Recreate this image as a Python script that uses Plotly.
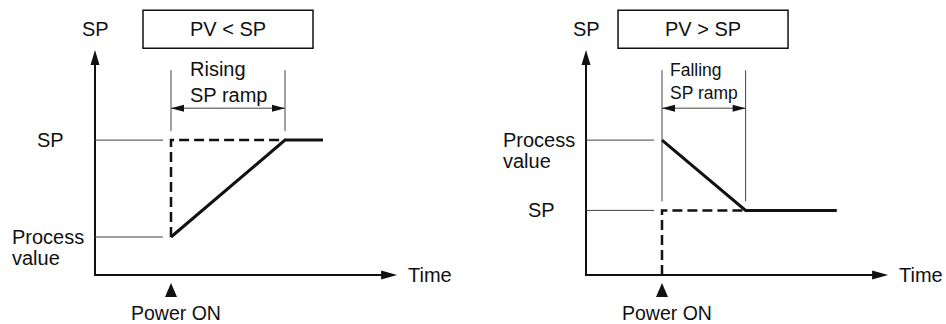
import plotly.graph_objects as go

# ---- diagram data (time / value in arbitrary units) ----
panel_titles = ["PV < SP", "PV > SP"]
ramp_labels = ["Rising<br>SP ramp", "Falling<br>SP ramp"]
ramp_label_size = [20, 17.5]

# dashed: target SP, jumps at power ON
target_t = [[2.0, 2.0, 5.0], [2.0, 2.0, 4.2]]
target_v = [[1.0, 3.55, 3.55], [0.0, 1.7, 1.7]]
# solid: SP ramped from the process value to the SP
ramp_t = [[2.0, 5.0, 6.0], [2.0, 4.2, 6.6]]
ramp_v = [[1.0, 3.55, 3.55], [3.55, 1.7, 1.7]]

# ---- layout ----
W, H = 946, 324
UNIT = 38                      # px per unit
origins = [(95, 275), (586, 275)]
X_TIP, Y_TIP = 7.95, 5.92
BRACKET_TOP = 5.39
BRACKET_ARROW = 4.39
TITLE_Y = 6.47
box_cx = [3.5, 3.08]
FONT = "Liberation Sans, Arial, sans-serif"
INK = "#111"
THIN = "#444"

fig = go.Figure()
shapes, annots = [], []

def px(n):
    return n / UNIT

for i in range(2):
    xr = "x" if i == 0 else "x2"
    yr = "y" if i == 0 else "y2"
    t_on, t_end = ramp_t[i][0], ramp_t[i][1]
    sp, pv = ramp_v[i][-1], ramp_v[i][0]

    # axes
    fig.add_trace(go.Scatter(x=[0, 0, X_TIP - px(10)], y=[Y_TIP - px(10), 0, 0], xaxis=xr, yaxis=yr,
                             mode="lines", line=dict(color=INK, width=2), hoverinfo="skip"))
    # thin guide lines
    gx, gy = [], []
    for lv in (sp, pv):
        gx += [0, t_on - px(8), None]
        gy += [lv, lv, None]
    for tt in (t_on, t_end):
        gx += [tt, tt, None]
        gy += [BRACKET_TOP, sp + px(9), None]
    gx += [t_on, t_end, None]
    gy += [BRACKET_ARROW, BRACKET_ARROW, None]
    fig.add_trace(go.Scatter(x=gx, y=gy, xaxis=xr, yaxis=yr, mode="lines",
                             line=dict(color=THIN, width=1), hoverinfo="skip"))
    # target SP (dashed)
    fig.add_trace(go.Scatter(x=target_t[i], y=target_v[i], xaxis=xr, yaxis=yr, mode="lines",
                             line=dict(color=INK, width=2.5, dash="10px,5px"), hoverinfo="skip"))
    # ramped SP (solid)
    fig.add_trace(go.Scatter(x=ramp_t[i], y=ramp_v[i], xaxis=xr, yaxis=yr, mode="lines",
                             line=dict(color=INK, width=3), hoverinfo="skip"))

    def head(xa, ya, path):
        shapes.append(dict(type="path", xref=xr, yref=yr, xsizemode="pixel", ysizemode="pixel",
                           xanchor=xa, yanchor=ya, path=path, fillcolor=INK, line=dict(width=0)))

    head(0, Y_TIP, "M0,0 L4.5,-15 L-4.5,-15 Z")
    head(X_TIP, 0, "M0,0 L-16,4.5 L-16,-4.5 Z")
    head(t_on, BRACKET_ARROW, "M0,0 L13,3.5 L13,-3.5 Z")
    head(t_end, BRACKET_ARROW, "M0,0 L-13,3.5 L-13,-3.5 Z")
    head(t_on, 0, "M0,-8 L6,-22 L-6,-22 Z")
    # title box
    shapes.append(dict(type="rect", xref=xr, yref=yr, xsizemode="pixel", ysizemode="pixel",
                       xanchor=box_cx[i], yanchor=TITLE_Y, x0=-85, x1=85, y0=-19, y1=19,
                       line=dict(color=INK, width=1.5)))

    def text(s, x, y, size=20, **kw):
        annots.append(dict(text=s, x=x, y=y, xref=xr, yref=yr, showarrow=False,
                           font=dict(family=FONT, size=size, color=INK), **kw))

    text(panel_titles[i], box_cx[i], TITLE_Y)
    text("SP", 0, TITLE_Y)
    text(ramp_labels[i], (t_on + t_end) / 2, 5.08, size=ramp_label_size[i], align="left")
    text("SP", 0, sp, xanchor="right", xshift=-29)
    text("Process", 0, pv, xanchor="left", xshift=-85)
    text("value", 0, pv, xanchor="left", xshift=-85, yshift=-21)
    text("Time", X_TIP, 0, xanchor="left", xshift=9)
    text("Power ON", t_on, 0, xshift=5, yshift=-38, size=19.5)

hide = dict(visible=False, fixedrange=True)
fig.update_layout(
    width=W, height=H, margin=dict(l=0, r=0, t=0, b=0),
    paper_bgcolor="white", plot_bgcolor="white", showlegend=False,
    xaxis=dict(domain=[0, 0.5], range=[px(0 - origins[0][0]), px(W / 2 - origins[0][0])], **hide),
    xaxis2=dict(domain=[0.5, 1], range=[px(W / 2 - origins[1][0]), px(W - origins[1][0])], **hide),
    yaxis=dict(domain=[0, 1], range=[px(origins[0][1] - H), px(origins[0][1])], **hide),
    yaxis2=dict(domain=[0, 1], anchor="x2", range=[px(origins[1][1] - H), px(origins[1][1])], **hide),
    shapes=shapes, annotations=annots,
)

fig.write_html("out.html", config={"displayModeBar": False},
               post_script="document.body.style.margin='0';document.body.style.overflow='hidden';")
